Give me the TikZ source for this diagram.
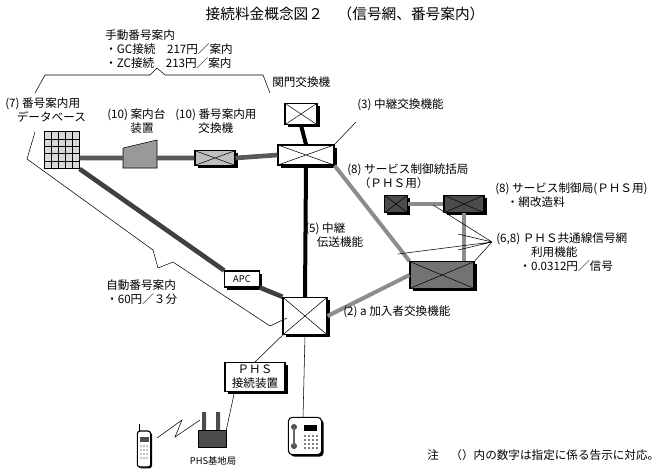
\documentclass[tikz,border=0pt]{standalone}
\usepackage{fontspec}
\setmainfont{Noto Sans CJK JP}
\usetikzlibrary{shadows,positioning}
\tikzset{
  sw/.style={draw,thick,minimum width=#1,inner sep=0pt,
    drop shadow={shadow xshift=2pt,shadow yshift=-2pt,fill=black,opacity=1},
    path picture={\draw[thin] (path picture bounding box.north west)--(path picture bounding box.south east)
      (path picture bounding box.south west)--(path picture bounding box.north east);}},
  lbl/.style={inner sep=0pt,align=left,font=\fontsize{8.7}{10.5}\selectfont},
  trunk/.style={line width=3.5pt,draw=black!65},
  gline/.style={line width=3pt,draw=black!45},
}
\begin{document}
\begin{tikzpicture}[x=0.75pt,y=-0.75pt]
\useasboundingbox (0,0) rectangle (666,469);
%Title
\node[font=\fontsize{11}{13}\selectfont] (title) at (345,14) {接続料金概念図２　（信号網、番号案内）};
\node[lbl,anchor=north west] (manual) at (105,29) {手動番号案内\\・GC接続　217円／案内\\・ZC接続　213円／案内};
\draw (35,93)--(45,75)--(150,75)--(157,68)--(165,75)--(263,75)--(270,93);
\node[lbl,anchor=west] (gatelbl) at (272,82) {関門交換機};
%Switches
\node[sw=24pt,minimum height=16pt,fill=white] (gate) at (301,114) {};
\node[sw=42pt,minimum height=15pt,fill=white] (transit) at (306,155) {};
\node[sw=33pt,minimum height=28pt,fill=white] (sub) at (305,316) {};
\node[sw=48pt,minimum height=20pt,fill=black!55] (scp) at (442,275) {};
\node[sw=17pt,minimum height=13pt,fill=black!70] (scpa) at (396,204) {};
\node[sw=30pt,minimum height=13pt,fill=black!70] (scpb) at (464,204) {};
\node[sw=30pt,minimum height=11pt,fill=black!25] (nsw) at (215,158) {};
\node[draw,thick,minimum width=26pt,minimum height=12pt,fill=white,lbl,font=\fontsize{7}{8}\selectfont,
  drop shadow={shadow xshift=2pt,shadow yshift=-2pt,fill=black,opacity=1}] (apc) at (242,279) {APC};
\node[draw,thick,fill=white,lbl,align=center,inner sep=2pt,minimum width=45pt,
  drop shadow={shadow xshift=2pt,shadow yshift=-2pt,fill=black,opacity=1}] (phsc) at (255,377) {ＰＨＳ\\接続装置};
%Database
\node[draw,fill=black!15,minimum width=26pt,minimum height=28pt,inner sep=0pt,
  path picture={\foreach \i in {1,...,4}{\draw ([xshift=\i*5.2pt]path picture bounding box.north west)--++(0,-30pt);
    \draw ([yshift=-\i*5.6pt]path picture bounding box.north west)--++(30pt,0);}}] (db) at (62,150) {};
%Desk
\draw[fill=black!40] (123,148)--(157,140)--(157,168)--(123,168)--cycle;
\coordinate (desk) at (140,158);
%Lines
\draw[trunk] (db.east|-desk)--(123,158) (157,158)--(nsw.west) (nsw.east)--(transit.west);
\draw[trunk,draw=black!75] (db.south east)--(apc.north west) (apc.south east)--(sub.north west);
\draw[line width=3pt] (gate.south)--(transit.north) (transit.south)--(sub.north);
\draw[gline] (transit.south east)--(scp.north west) (sub.east)--(scp.west);
\draw[gline] (scpa.east)--(scpb.west) (scpb.south)--(scp.north-|scpb.south);
\draw (sub.south)--(303,418);
\draw (sub.south west)--(phsc.north);
%Labels
\node[lbl,anchor=west] (l7) at (5,110) {(7) 番号案内用\\　データベース};
\node[lbl,anchor=west] (l10a) at (107,121) {(10) 案内台\\　　装置};
\node[lbl,anchor=west] (l10b) at (175,121) {(10) 番号案内用\\　　交換機};
\node[lbl,anchor=west] (l3) at (357,105) {(3) 中継交換機能};
\draw (transit.north east)--(356,122);
\node[lbl,anchor=west] (l5) at (305,235) {(5) 中継\\　伝送機能};
\node[lbl,anchor=west] (l8a) at (347,176) {(8) サービス制御統括局\\　（ＰＨＳ用）};
\node[lbl,anchor=west] (l8b) at (495,195) {(8) サービス制御局(ＰＨＳ用)\\　・網改造料};
\node[lbl,anchor=west] (l68) at (496,252) {(6,8) ＰＨＳ共通線信号網\\　　　利用機能\\　　・0.0312円／信号};
\node[lbl,anchor=west] (l2) at (343,312) {(2) a 加入者交換機能};
\node[lbl,anchor=west] (lauto) at (106,292) {自動番号案内\\・60円／３分};
\coordinate (fan) at (492,242);
\draw (fan)--(433,205) (fan)--(458,234) (fan)--(458,250) (fan)--(398,254) (fan)--(scp.north east);
\draw (35,132)--(27,159)--(153,250)--(158,268)--(173,262)--(270,326)--(287,318);
%Phone
\node[draw,thick,rounded corners=3pt,fill=white,minimum width=25pt,minimum height=28pt,
  drop shadow={shadow xshift=1.5pt,shadow yshift=-1.5pt,fill=black,opacity=1}] (phone) at (305,436) {};
\fill[black!70] (294,427) circle (3) (294,446) circle (3);
\draw[thick,black!60] (294,427)--(294,446);
\fill (304,425) rectangle (317,431);
\foreach \r in {436,440,444,448}{\foreach \c in {305,309,313,317}{\fill (\c,\r) circle (0.8);}}
%Base station
\fill[black!70] (202,412) rectangle (206,432) (216,412) rectangle (220,432);
\node[draw,fill=black!70,minimum width=21pt,minimum height=13pt,inner sep=0pt] (bs) at (212,439) {};
\draw (phsc.south west)++(10,0)--(bs.north east);
\node[lbl,font=\fontsize{7}{8}\selectfont] (bslbl) at (213,461) {PHS基地局};
%Handset
\node[draw,thick,rounded corners=2pt,fill=white,minimum width=10pt,minimum height=27pt,
  drop shadow={shadow xshift=1pt,shadow yshift=-1pt,fill=black,opacity=1}] (hand) at (144,449) {};
\draw (139,432)--(139,424);
\fill[black!70] (140,437) rectangle (149,442);
\foreach \r in {446,450,454,458}{\foreach \c in {141,144,147}{\fill (\c,\r) circle (0.7);}}
\draw (157,438)--(182,420)--(175,437)--(200,420);
\node[lbl,anchor=west] (note) at (427,455) {注　（）内の数字は指定に係る告示に対応。};
\end{tikzpicture}
\end{document}
